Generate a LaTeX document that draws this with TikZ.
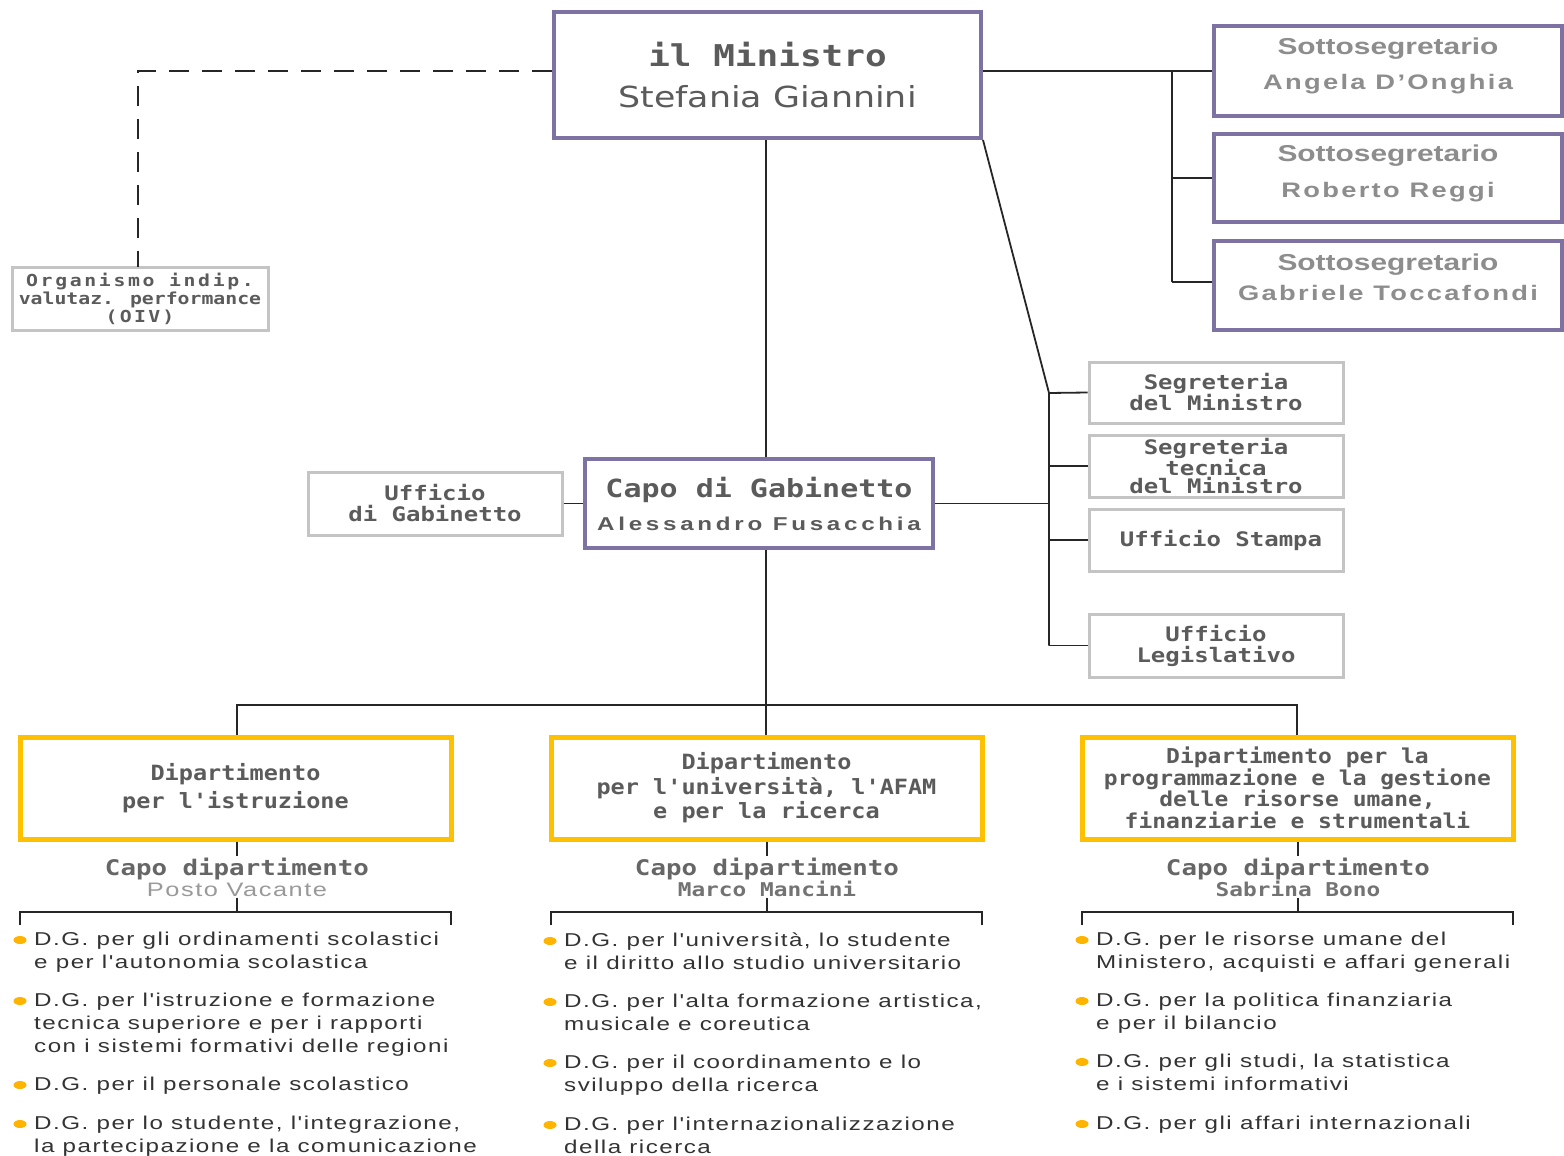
\documentclass[tikz,border=0pt]{standalone}
\usepackage{fontspec}
\setmainfont{Liberation Sans}
\newfontfamily\monof{DejaVu Sans Mono}[FakeStretch=1.2]
\newfontfamily\deptf{DejaVu Sans Mono}[FakeStretch=1.12]
\newfontfamily\dejaf{DejaVu Sans}[FakeStretch=1.2]
\newfontfamily\libf{Liberation Sans}[FakeStretch=1.3]
\newfontfamily\bulf{Liberation Sans}[FakeStretch=1.3,LetterSpace=8]
\newfontfamily\namef{Liberation Sans}[FakeStretch=1.3,LetterSpace=11]
\newfontfamily\capf{Liberation Sans}[FakeStretch=1.3,LetterSpace=20]
\usetikzlibrary{shapes.geometric}
\definecolor{pur}{HTML}{7E72A3}
\definecolor{gbox}{HTML}{C4C4C4}
\definecolor{yel}{HTML}{FFC000}
\definecolor{htxt}{HTML}{5B5B5B}
\definecolor{stxt}{HTML}{8D8D8D}
\definecolor{btxt}{HTML}{333333}
\definecolor{bul}{HTML}{FFB400}
\tikzset{
  pbox/.style={draw=pur, line width=4pt, fill=white, align=center, inner sep=0pt, text=htxt},
  stext/.style={align=center, inner sep=0pt, text=stxt},
  gbx/.style={draw=gbox, line width=3pt, fill=white, align=center, inner sep=0pt, text=htxt,
     font=\monof\bfseries\fontsize{20}{21}\selectfont},
  ybox/.style={draw=yel, line width=5pt, fill=white, align=center, inner sep=0pt, text=htxt,
     minimum width=431pt, minimum height=102pt},
  conn/.style={draw=black!85, line width=1.8pt},
  dconn/.style={draw=black!85, line width=1.8pt, dash pattern=on 20pt off 13pt},
  capod/.style={align=center, inner sep=1pt, text=black!60,
     font=\monof\bfseries\fontsize{21.5}{21}\selectfont},
  bullet/.style={shape=ellipse, fill=bul, inner sep=0pt, minimum width=13pt, minimum height=8pt},
  item/.style={anchor=north west, align=left, inner sep=0pt, text=btxt,
     font=\bulf\fontsize{18.6}{23}\selectfont}
}
\begin{document}
\begin{tikzpicture}[x=1pt,y=-1pt]
\useasboundingbox[fill=white] (0,0) rectangle (1564,1156);

% ---- top level
\node[pbox, minimum width=427pt, minimum height=126pt,
  font=\fontsize{30}{41}\selectfont] (min) at (767.5,75)
  {{\monof\bfseries il Ministro}\\{\dejaf\fontsize{29}{41}\selectfont Stefania Giannini}};

\node[gbx, minimum width=256pt, minimum height=63pt,
  font=\monof\bfseries\fontsize{16.5}{18}\selectfont] (oiv) at (140,298.5)
  {{\addfontfeatures{LetterSpace=16}Organismo indip.}\\valutaz. performance\\{\addfontfeatures{LetterSpace=14}(OIV)}};

\node[pbox, minimum width=348pt, minimum height=90pt] (s1) at (1388,71) {};
\node[pbox, minimum width=348pt, minimum height=88pt] (s2) at (1388,178) {};
\node[pbox, minimum width=348pt, minimum height=89pt] (s3) at (1388,285.5) {};
\node[stext, font=\libf\bfseries\fontsize{23}{35}\selectfont] (s1t) at (1388,66)
  {Sottosegretario\\{\namef\bfseries\fontsize{21}{35}\selectfont Angela D’Onghia}};
\node[stext, font=\libf\bfseries\fontsize{23}{36}\selectfont] (s2t) at (1388,173.5)
  {Sottosegretario\\{\namef\bfseries\fontsize{21}{36}\selectfont Roberto Reggi}};
\node[stext, font=\libf\bfseries\fontsize{23}{30}\selectfont] (s3t) at (1388,277.5)
  {Sottosegretario\\{\namef\bfseries\fontsize{21}{30}\selectfont Gabriele Toccafondi}};

% ---- cabinet
\node[pbox, minimum width=348pt, minimum height=89pt,
  font=\fontsize{25}{33}\selectfont] (capo) at (759,503.5)
  {{\monof\bfseries Capo di Gabinetto}\\{\capf\bfseries\fontsize{18.6}{33}\selectfont Alessandro Fusacchia}};
\node[gbx, minimum width=254pt, minimum height=63pt] (ug) at (435,503.5)
  {Ufficio\\di Gabinetto};

\node[gbx, minimum width=254pt, minimum height=61pt] (sm) at (1216,392.5)
  {Segreteria\\del Ministro};
\node[gbx, minimum width=254pt, minimum height=62pt,
  font=\monof\bfseries\fontsize{20}{18.5}\selectfont] (st) at (1216,466)
  {Segreteria\\tecnica\\del Ministro};
\node[gbx, minimum width=254pt, minimum height=62pt] (us) at (1216,540)
  {\hspace*{10pt}Ufficio Stampa};
\node[gbx, minimum width=254pt, minimum height=63pt] (ul) at (1216,645.5)
  {Ufficio\\Legislativo};

% ---- departments
\node[ybox, font=\deptf\bfseries\fontsize{21}{28}\selectfont] (d1) at (235.5,788)
  {Dipartimento\\per l'istruzione};
\node[ybox, font=\deptf\bfseries\fontsize{21}{24.5}\selectfont] (d2) at (766.5,788)
  {Dipartimento\\per l'università, l'AFAM\\e per la ricerca};
\node[ybox, font=\deptf\bfseries\fontsize{20.5}{21.5}\selectfont] (d3) at (1297.5,788)
  {Dipartimento per la\\programmazione e la gestione\\delle risorse umane,\\finanziarie e strumentali};

\node[capod] (c1) at (237,877)
  {Capo dipartimento\\{\bulf\mdseries\fontsize{19.5}{21}\selectfont\color{black!40}Posto Vacante}};
\node[capod] (c2) at (767,877)
  {Capo dipartimento\\{\fontsize{19}{21}\selectfont\color{black!55}Marco Mancini}};
\node[capod] (c3) at (1298,877)
  {Capo dipartimento\\{\fontsize{19}{21}\selectfont\color{black!55}Sabrina Bono}};

% ---- connectors
\coordinate (dl) at (138,71);
\coordinate (oivtop) at (138,267);
\draw[dconn] (min.west |- dl) -- (dl) -- (oivtop);

\coordinate (sv1) at (1172,71);
\coordinate (sv3) at (1172,282);
\draw[conn] (min.east |- sv1) -- (sv1);
\draw[conn] (sv1) -- (sv3);
\draw[conn] (sv1) -- (s1.west |- sv1);
\draw[conn] (s2.west -| sv1) -- (s2.west);
\draw[conn] (sv3) -- (s3.west |- sv3);

\coordinate (rv1) at (1049,393);
\coordinate (rv4) at (1049,645.5);
\draw[conn] (min.south east) -- (rv1) -- (rv4);
\draw[conn] (rv1) -- (sm.west);
\draw[conn] (st.west -| rv1) -- (st.west);
\draw[conn] (us.west -| rv1) -- (us.west);
\draw[conn] (rv4) -- (ul.west);
\draw[conn] (capo.east) -- (capo.east -| rv1);
\draw[conn] (ug.east) -- (capo.west);

\coordinate (mv) at (766,705);
\draw[conn] (min.south -| mv) -- (capo.north -| mv);
\draw[conn] (capo.south -| mv) -- (mv);
\coordinate (hl) at (237,705);
\coordinate (hr) at (1297,705);
\draw[conn] (d1.north -| hl) -- (hl) -- (hr) -- (d3.north -| hr);
\draw[conn] (mv) -- (d2.north -| mv);

\foreach \n/\cx/\l/\r in {1/237/20/451, 2/767/551/982, 3/1298/1082/1513}{
  \coordinate (bl\n) at (\l,925);
  \coordinate (br\n) at (\r,925);
  \coordinate (bm\n) at (\cx,912);
  \draw[conn] (d\n.south -| bm\n) -- (c\n.north -| bm\n);
  \draw[conn] (c\n.south -| bm\n) -- (bm\n);
  \draw[conn] (bl\n) -- (bl\n |- bm\n) -- (br\n |- bm\n) -- (br\n);
}

% ---- lists
\foreach \x/\y/\nm/\t in {
 20/940/a1/{D.G. per gli ordinamenti scolastici\\e per l'autonomia scolastica},
 20/1001/a2/{D.G. per l'istruzione e formazione\\tecnica superiore e per i rapporti\\con i sistemi formativi delle regioni},
 20/1085/a3/{D.G. per il personale scolastico},
 20/1124/a4/{D.G. per lo studente, l'integrazione,\\la partecipazione e la comunicazione},
 550/941/b1/{D.G. per l'università, lo studente\\e il diritto allo studio universitario},
 550/1002/b2/{D.G. per l'alta formazione artistica,\\musicale e coreutica},
 550/1063/b3/{D.G. per il coordinamento e lo\\sviluppo della ricerca},
 550/1125/b4/{D.G. per l'internazionalizzazione\\della ricerca},
 1082/940/c1/{D.G. per le risorse umane del\\Ministero, acquisti e affari generali},
 1082/1001/c2/{D.G. per la politica finanziaria\\e per il bilancio},
 1082/1062/c3/{D.G. per gli studi, la statistica\\e i sistemi informativi},
 1082/1124/c4/{D.G. per gli affari internazionali}}{
  \node[bullet] (p\nm) at (\x,\y) {};
  \node[item] (t\nm) at ([xshift=14pt,yshift=8pt]\x,\y) {\t};
}
\end{tikzpicture}
\end{document}
